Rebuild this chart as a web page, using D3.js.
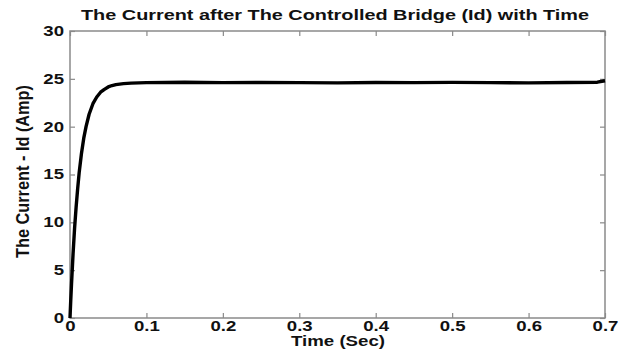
<!DOCTYPE html>
<html>
<head>
<meta charset="utf-8">
<script src="https://cdn.jsdelivr.net/npm/d3@7"></script>
<style>
  html, body { margin: 0; padding: 0; background: #fff; }
  svg { display: block; }
  text { font-family: "Liberation Sans", Arial, Helvetica, sans-serif; font-weight: bold; fill: #111; }
</style>
</head>
<body>
<svg id="chart" width="628" height="351"></svg>
<script>
// ---- data ----
const titleText = "The Current after The Controlled Bridge (Id) with Time";
const xLabelText = "Time (Sec)";
const yLabelText = "The Current - Id (Amp)";

const xTicks = [0, 0.1, 0.2, 0.3, 0.4, 0.5, 0.6, 0.7];
const yTicks = [0, 5, 10, 15, 20, 25, 30];

const timeVals = [0, 0.001, 0.002, 0.004, 0.006, 0.008, 0.010, 0.012, 0.015, 0.018, 0.021, 0.025,
  0.030, 0.035, 0.040, 0.045, 0.050, 0.055, 0.060, 0.070, 0.080, 0.100, 0.150, 0.200, 0.250,
  0.300, 0.350, 0.400, 0.450, 0.500, 0.550, 0.600, 0.650, 0.690, 0.700];
const currentVals = [0, 1.9, 3.6, 6.7, 9.4, 11.6, 13.5, 15.2, 17.2, 18.8, 20.0, 21.3,
  22.4, 23.1, 23.6, 23.9, 24.15, 24.3, 24.4, 24.5, 24.55, 24.6, 24.65, 24.6, 24.62,
  24.6, 24.58, 24.62, 24.6, 24.63, 24.6, 24.58, 24.62, 24.65, 24.8];

// ---- layout ----
const svg = d3.select("#chart");
const mLeft = 70, mRight = 605, mTop = 31, mBottom = 318;
const stretch = 1.33;

const x = d3.scaleLinear().domain([0, 0.7]).range([mLeft, mRight]);
const y = d3.scaleLinear().domain([0, 30]).range([mBottom, mTop]);

const axisColor = "#8a8a8a";

// frame
svg.append("rect")
  .attr("x", mLeft).attr("y", mTop)
  .attr("width", mRight - mLeft).attr("height", mBottom - mTop)
  .attr("fill", "none").attr("stroke", axisColor).attr("stroke-width", 1.5);

// inward ticks on all four sides
const tickLen = 5;
const fmtX = d => d === 0 ? "0" : d3.format(".1f")(d);

const gx = svg.append("g").attr("transform", `translate(0,${mBottom})`)
  .call(d3.axisBottom(x).tickValues(xTicks).tickFormat(fmtX).tickSize(-tickLen).tickPadding(3));
const gxt = svg.append("g").attr("transform", `translate(0,${mTop})`)
  .call(d3.axisTop(x).tickValues(xTicks).tickFormat("").tickSize(-tickLen));
const gy = svg.append("g").attr("transform", `translate(${mLeft},0)`)
  .call(d3.axisLeft(y).tickValues(yTicks).tickSize(-tickLen).tickPadding(7));
const gyr = svg.append("g").attr("transform", `translate(${mRight},0)`)
  .call(d3.axisRight(y).tickValues(yTicks).tickFormat("").tickSize(-tickLen));

[gx, gxt, gy, gyr].forEach(g => {
  g.select(".domain").remove();
  g.selectAll(".tick line").attr("stroke", axisColor).attr("stroke-width", 1.2);
  g.selectAll(".tick text").attr("font-size", 14).attr("fill", "#111")
    .attr("font-family", "Liberation Sans, Arial, sans-serif").attr("font-weight", "bold");
});
gx.selectAll(".tick text").attr("y", 3).attr("transform", `scale(${stretch},1)`);
gy.selectAll(".tick text").each(function () {
  const t = d3.select(this);
  t.attr("x", -6 / stretch).attr("transform", `scale(${stretch},1)`);
});

// data line
const line = d3.line().x((d, i) => x(timeVals[i])).y(d => y(d));
svg.append("path")
  .datum(currentVals)
  .attr("d", line)
  .attr("fill", "none")
  .attr("stroke", "#000")
  .attr("stroke-width", 3.4)
  .attr("stroke-linejoin", "round");

// title
svg.append("text")
  .attr("x", 81).attr("y", 20)
  .attr("font-size", 14)
  .attr("textLength", 508).attr("lengthAdjust", "spacingAndGlyphs")
  .text(titleText);

// x label
svg.append("text")
  .attr("x", 291).attr("y", 346)
  .attr("font-size", 14)
  .attr("textLength", 94).attr("lengthAdjust", "spacingAndGlyphs")
  .text(xLabelText);

// y label
svg.append("text")
  .attr("transform", `translate(29,${172 + 86}) rotate(-90)`)
  .attr("x", 0).attr("y", 0)
  .attr("font-size", 19)
  .attr("textLength", 173).attr("lengthAdjust", "spacingAndGlyphs")
  .text(yLabelText);
</script>
</body>
</html>
